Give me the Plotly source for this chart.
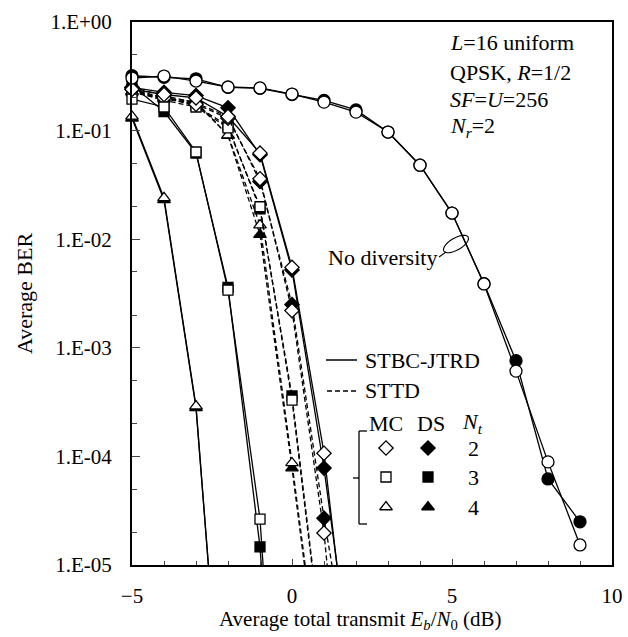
import plotly.graph_objects as go
import math

FONT = "Liberation Serif, Times New Roman, serif"

# ---------------- data ----------------
x_nodiv = [-5, -4, -3, -2, -1, 0, 1, 2, 3, 4, 5, 6, 7, 8, 9]
nodiv_mc = [0.305, 0.318, 0.286, 0.252, 0.247, 0.217, 0.183, 0.148, 0.097, 0.048, 0.0174, 0.00387, 6.1e-4, 8.9e-5, 1.53e-5]
nodiv_ds = [0.32, 0.31, 0.30, 0.25, 0.245, 0.215, 0.19, 0.155, 0.097, 0.048, 0.0174, 0.0039, 7.6e-4, 6.2e-5, 2.5e-5]

# STBC-JTRD (solid)
x_jt2 = [-5, -4, -3, -2, -1, 0, 1, 2]
jt2_mc = [0.24, 0.215, 0.20, 0.135, 0.062, 0.0055, 1.07e-4, 3e-7]
jt2_ds = [0.25, 0.225, 0.21, 0.162, 0.060, 0.0052, 7.8e-5, 5e-7]
x_jt3 = [-5, -4, -3, -2, -1, 0]
jt3_mc = [0.195, 0.165, 0.0635, 0.0034, 2.65e-5, 1e-9]
jt3_ds = [0.26, 0.15, 0.062, 0.0036, 1.47e-5, 1e-9]
x_jt4 = [-5, -4, -3, -2]
jt4_mc = [0.135, 0.024, 2.9e-4, 5e-8]
jt4_ds = [0.13, 0.023, 2.8e-4, 5e-8]

# STTD (dashed)
x_st2 = [-5, -4, -3, -2, -1, 0, 1, 2]
st2_mc = [0.24, 0.20, 0.175, 0.13, 0.036, 0.0022, 1.97e-5, 2e-8]
st2_ds = [0.25, 0.21, 0.18, 0.135, 0.034, 0.0025, 2.7e-5, 5e-7]
x_st3 = [-5, -4, -3, -2, -1, 0, 1]
st3_mc = [0.23, 0.19, 0.165, 0.106, 0.0199, 3.3e-4, 1.2e-6]
st3_ds = [0.235, 0.20, 0.17, 0.11, 0.019, 3.6e-4, 1.3e-6]
x_st4 = [-5, -4, -3, -2, -1, 0, 1]
st4_mc = [0.225, 0.195, 0.18, 0.091, 0.0135, 8.7e-5, 4.5e-7]
st4_ds = [0.23, 0.20, 0.185, 0.09, 0.011, 7.8e-5, 4e-7]

y_tickvals = [1, 1e-1, 1e-2, 1e-3, 1e-4, 1e-5]
y_ticktext = ["1.E+00", "1.E-01", "1.E-02", "1.E-03", "1.E-04", "1.E-05"]
x_tickvals = [-5, 0, 5, 10]

legend_rows = [("diamond", "2"), ("square", "3"), ("triangle-up", "4")]

# ---------------- figure ----------------
fig = go.Figure()
YMIN = 1e-5


def add_series(xs, ys, symbol, filled, dash, size):
    fig.add_trace(go.Scatter(x=xs, y=ys, mode="lines",
                             line=dict(color="black", width=1.3, dash=dash),
                             showlegend=False, hoverinfo="skip"))
    mx = [a for a, b in zip(xs, ys) if b >= YMIN * 0.999]
    my = [b for b in ys if b >= YMIN * 0.999]
    fig.add_trace(go.Scatter(x=mx, y=my, mode="markers", cliponaxis=False,
                             marker=dict(symbol=symbol, size=size,
                                         color="black" if filled else "white",
                                         line=dict(color="black", width=1.3)),
                             showlegend=False, hoverinfo="skip"))


DASH = "5px,3px"
add_series(x_st4, st4_ds, "triangle-up", True, DASH, 11)
add_series(x_st4, st4_mc, "triangle-up", False, DASH, 11)
add_series(x_st3, st3_ds, "square", True, DASH, 10)
add_series(x_st3, st3_mc, "square", False, DASH, 10)
add_series(x_st2, st2_ds, "diamond", True, DASH, 11)
add_series(x_st2, st2_mc, "diamond", False, DASH, 11)
add_series(x_jt4, jt4_ds, "triangle-up", True, "solid", 11)
add_series(x_jt4, jt4_mc, "triangle-up", False, "solid", 11)
add_series(x_jt3, jt3_ds, "square", True, "solid", 10)
add_series(x_jt3, jt3_mc, "square", False, "solid", 10)
add_series(x_jt2, jt2_ds, "diamond", True, "solid", 11)
add_series(x_jt2, jt2_mc, "diamond", False, "solid", 11)
add_series(x_nodiv, nodiv_ds, "circle", True, "solid", 12)
add_series(x_nodiv, nodiv_mc, "circle", False, "solid", 12)

L, R, T, B = 132, 612, 22, 565


def px(x):
    return (x - L) / (R - L)


def py(y):
    return (B - y) / (B - T)


row_y = [448, 477, 507]
for (sym, num), yy in zip(legend_rows, row_y):
    sz = 10 if sym == "square" else 11
    fig.add_trace(go.Scatter(x=[px(386)], y=[py(yy)], xaxis="x2", yaxis="y2", mode="markers",
                             marker=dict(symbol=sym, size=sz, color="white", line=dict(color="black", width=1.3)),
                             showlegend=False, hoverinfo="skip", cliponaxis=False))
    fig.add_trace(go.Scatter(x=[px(428)], y=[py(yy)], xaxis="x2", yaxis="y2", mode="markers",
                             marker=dict(symbol=sym, size=sz, color="black", line=dict(color="black", width=1.3)),
                             showlegend=False, hoverinfo="skip", cliponaxis=False))

shapes = []
shapes.append(dict(type="line", xref="paper", yref="paper", x0=px(326), x1=px(357), y0=py(360), y1=py(360),
                   line=dict(color="black", width=1.5)))
shapes.append(dict(type="line", xref="paper", yref="paper", x0=px(327), x1=px(357), y0=py(391), y1=py(391),
                   line=dict(color="black", width=1.5, dash="5px,3px")))
for (a, b, c, d) in [(367, 431, 359, 431), (359, 431, 359, 524), (359, 524, 367, 524), (359, 478, 353, 478)]:
    shapes.append(dict(type="line", xref="paper", yref="paper", x0=px(a), y0=py(b), x1=px(c), y1=py(d),
                       line=dict(color="black", width=1.3)))
# "No diversity" ellipse + leader
cx, cy, rx, ry = 456, 244, 14, 6
pts = []
ang = math.radians(-30)
for i in range(49):
    t = 2 * math.pi * i / 48
    ex, ey = rx * math.cos(t), ry * math.sin(t)
    X = cx + ex * math.cos(ang) - ey * math.sin(ang)
    Y = cy + ex * math.sin(ang) + ey * math.cos(ang)
    pts.append((px(X), py(Y)))
path = "M " + " L ".join(f"{a:.5f},{b:.5f}" for a, b in pts) + " Z"
shapes.append(dict(type="path", xref="paper", yref="paper", path=path, line=dict(color="black", width=1.1)))
shapes.append(dict(type="line", xref="paper", yref="paper", x0=px(439), y0=py(257), x1=px(446), y1=py(252),
                   line=dict(color="black", width=1.1)))

ann = []


def text(x, y, s, xanchor="left", size=22):
    ann.append(dict(x=px(x), y=py(y), xref="paper", yref="paper", text=s, showarrow=False,
                    xanchor=xanchor, yanchor="middle", font=dict(family=FONT, size=size, color="black")))


text(448, 42, "<i>L</i>=16 uniform")
text(448, 72, "QPSK, <i>R</i>=1/2")
text(448, 100, "<i>SF</i>=<i>U</i>=256")
text(448, 127, "<i>N<sub>r</sub></i>=2")
text(326, 257, "No diversity")
text(363, 360, "STBC-JTRD")
text(363, 391, "STTD")
text(386, 423, "MC", "center")
text(431, 423, "DS", "center")
text(472, 423, "<i>N<sub>t</sub></i>", "center")
for (sym, num), yy in zip(legend_rows, row_y):
    text(473, yy, num, "center")
# x-axis title
text(360, 620, "Average total transmit <i>E<sub>b</sub></i>/<i>N</i><sub>0</sub> (dB)", "center", 21)

fig.update_layout(
    width=628, height=637,
    margin=dict(l=L, r=628 - R, t=T, b=637 - B),
    paper_bgcolor="white", plot_bgcolor="white",
    font=dict(family=FONT, size=22, color="black"),
    shapes=shapes, annotations=ann,
    xaxis=dict(range=[-5, 10], tickvals=x_tickvals, ticks="inside", ticklen=6, tickwidth=1.3,
               showline=True, linecolor="black", linewidth=2, mirror=True, showgrid=False, zeroline=False,
               automargin=False,
               minor=dict(dtick=1, ticks="inside", ticklen=4, tickwidth=1.3, showgrid=False),
               tickfont=dict(family=FONT, size=21), ticklabelstandoff=11),
    yaxis=dict(type="log", range=[-5, 0], tickvals=y_tickvals, ticktext=y_ticktext, ticks="inside",
               ticklen=8, tickwidth=1.3, showline=True, linecolor="black", linewidth=2, mirror=True,
               showgrid=False, zeroline=False, automargin=False,
               minor=dict(ticks="inside", ticklen=5, tickwidth=1.3, showgrid=False),
               title=dict(text="Average BER", font=dict(family=FONT, size=22), standoff=12),
               tickfont=dict(family=FONT, size=21), ticklabelstandoff=14),
    xaxis2=dict(overlaying="x", range=[0, 1], visible=False, anchor="y2"),
    yaxis2=dict(overlaying="y", range=[0, 1], visible=False, anchor="x2"),
)

fig.write_html("out.html")
